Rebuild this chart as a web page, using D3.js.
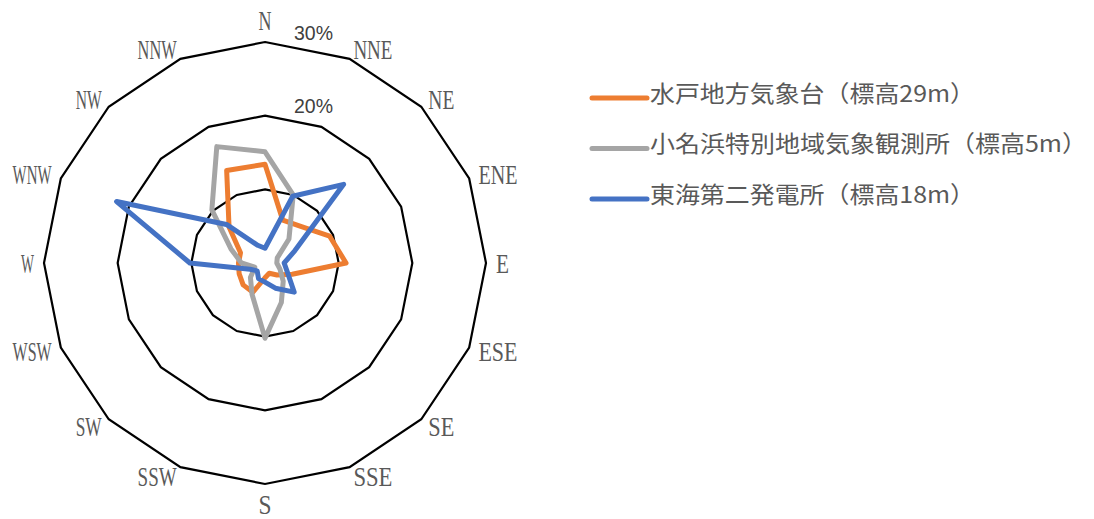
<!DOCTYPE html>
<html><head><meta charset="utf-8">
<script src="https://cdn.jsdelivr.net/npm/d3@7"></script>
<style>html,body{margin:0;padding:0;background:#fff;}svg{display:block;}</style>
</head><body>
<svg id="chart" width="1094" height="519"></svg>
<script>
const directions = ["N","NNE","NE","ENE","E","ESE","SE","SSE","S","SSW","SW","WSW","W","WNW","NW","NNW"];
const seriesNames = ["水戸地方気象台（標高29m）","小名浜特別地域気象観測所（標高5m）","東海第二発電所（標高18m）"];
const mito    = [13.4, 6.3, 7.0, 9.5, 11.0, 4.0, 2.3, 1.5, 2.0, 4.3, 4.2, 3.8, 3.6, 3.6, 6.9, 13.6];
const onahama = [15.1,10.0, 4.6, 1.8, 1.6, 2.2, 3.5, 5.8,10.2, 4.6, 2.8, 1.5, 3.2, 5.0,10.2,17.1];
const tokai   = [ 2.0, 9.8,15.1, 4.4, 2.6, 3.3, 5.6, 3.7, 2.6, 2.3, 1.5, 2.2,10.2,21.8, 7.4, 2.6];
const gridTicks = [10, 20, 30];
const tickLabels = ["20%","30%"];
const colors = ["#ED7D31","#A5A5A5","#4472C4"];

const svg = d3.select("#chart");
const cx = 265, cy = 263;
const r = d3.scaleLinear().domain([0, 30]).range([0, 221]);
const ang = d3.scalePoint().domain(directions).range([0, 2*Math.PI*15/16]);
const pt = (d, v) => { const a = ang(d); return [cx + r(v)*Math.sin(a), cy - r(v)*Math.cos(a)]; };

// grid polygons
const line = d3.line();
gridTicks.forEach(t => {
  const pts = directions.map(d => pt(d, t));
  svg.append("path").attr("d", line(pts) + "Z")
    .attr("fill","none").attr("stroke","#000").attr("stroke-width",2.2).attr("stroke-linejoin","miter");
});

// series
[mito, onahama, tokai].forEach((vals, i) => {
  const pts = directions.map((d, k) => pt(d, vals[k]));
  svg.append("path").attr("d", line(pts) + "Z")
    .attr("fill","none").attr("stroke", colors[i]).attr("stroke-width",5)
    .attr("stroke-linejoin","round");
});

// tick labels
tickLabels.forEach(s => {
  const v = parseFloat(s);
  svg.append("text").attr("x", cx + 29).attr("y", cy - r(v) - 9.5 + 7)
    .attr("font-family","Liberation Sans, Arial, sans-serif").attr("font-size",19.5)
    .attr("fill","#404040").attr("textLength",39).attr("lengthAdjust","spacingAndGlyphs")
    .text(s);
});

// direction labels
directions.forEach(d => {
  const a = ang(d), s = Math.sin(a), c = Math.cos(a);
  const [vx, vy] = pt(d, 30);
  let x = vx + 10*s, y = vy - 10*c;
  let anchor = Math.abs(s) < 0.01 ? "middle" : (s > 0 ? "start" : "end");
  let by;
  if (Math.abs(s) < 0.01 && c > 0) by = vy - 12;
  else if (Math.abs(s) < 0.01 && c < 0) by = vy + 30;
  else by = y + 9.5;
  svg.append("text").attr("x", x).attr("y", by)
    .attr("text-anchor", anchor)
    .attr("font-family","Liberation Serif, serif").attr("font-size",28)
    .attr("fill","#595959").attr("textLength", 13*d.length).attr("lengthAdjust","spacingAndGlyphs")
    .text(d);
});

// legend
const legY = d3.scalePoint().domain(seriesNames).range([98, 199]);
const legW = [325, 437, 325];
seriesNames.forEach((n, i) => {
  const y = legY(n);
  svg.append("line").attr("x1",592).attr("x2",647).attr("y1",y).attr("y2",y)
    .attr("stroke",colors[i]).attr("stroke-width",5).attr("stroke-linecap","round");
  svg.append("text").attr("x",650).attr("y", y - 6.5).attr("dominant-baseline","central")
    .attr("font-family","Noto Sans CJK JP, sans-serif").attr("font-size",23)
    .attr("fill","#595959").attr("textLength", legW[i]).attr("lengthAdjust","spacingAndGlyphs")
    .text(n);
});
</script>
</body></html>
